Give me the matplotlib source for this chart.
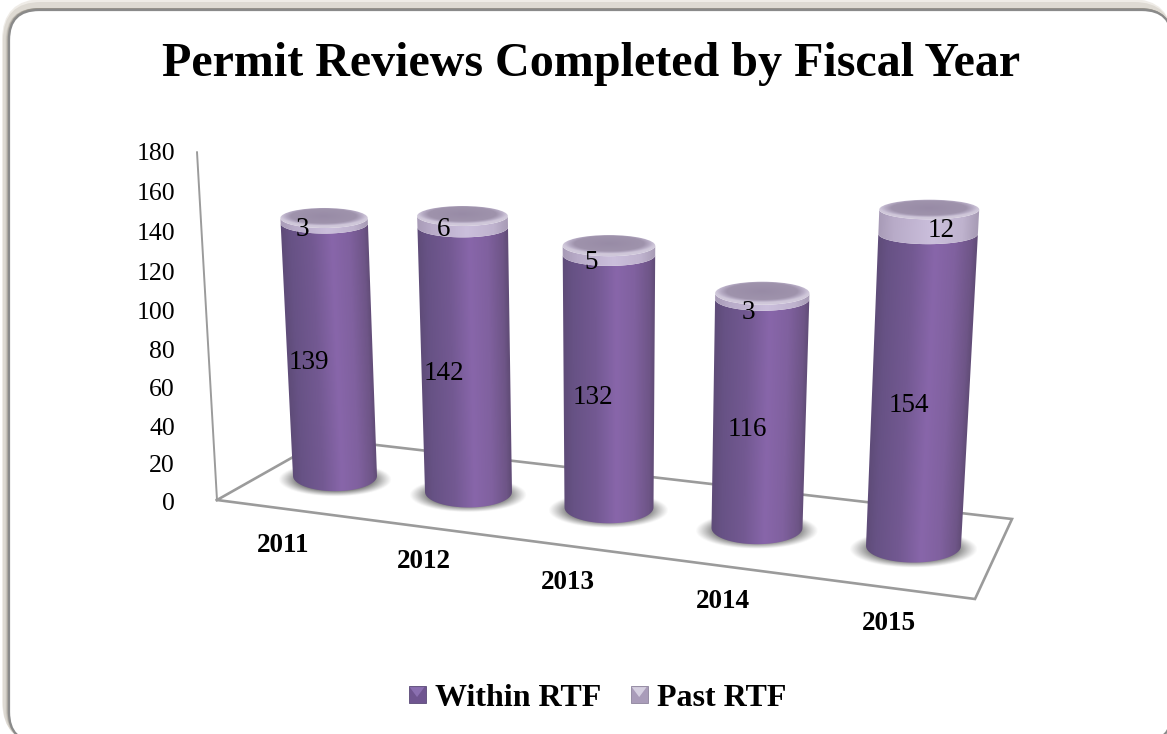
import numpy as np
import matplotlib
matplotlib.use("Agg")
import matplotlib.pyplot as plt
from matplotlib.colors import LinearSegmentedColormap
from matplotlib.patches import FancyBboxPatch, Polygon, Ellipse, Patch
from matplotlib.legend_handler import HandlerBase

# ---- data ----
years = ["2011", "2012", "2013", "2014", "2015"]
within_rtf = [139, 142, 132, 116, 154]
past_rtf = [3, 6, 5, 3, 12]
value_ticks = [0, 20, 40, 60, 80, 100, 120, 140, 160, 180]
series_names = ["Within RTF", "Past RTF"]
title = "Permit Reviews Completed by Fiscal Year"

# ---- layout of the 3-D scene (pixels) ----
base_x = [335, 468.5, 609, 757, 913.5]
base_y = [476, 492, 507.5, 528, 546]
base_hw = [42, 43.5, 44.5, 45.5, 47.5]
within_off = [(-21, 13), (-22, 14), (-16, 16), (-12, 16), (-12, 16)]
past_off = [(-22, 9), (-19, 8), (-18, 12), (-14, 16), (12, 9)]
year_off = [(-52, 69), (-45, 70), (-41, 75), (-34, 74), (-25, 77)]
VX, PERSP = 610.0, 6480.0

plt.rcParams["font.family"] = ["Liberation Serif", "DejaVu Serif"]

fig = plt.figure(figsize=(11.67, 7.34), dpi=100, facecolor="white")
ax = fig.add_axes([0, 0, 1, 1])
ax.axis("off")


def unit(by):
    return 1.817 + 0.003 * (by - 476)


def project(i, v):
    """Scene position of value v on the centre axis of column i."""
    t = v * unit(base_y[i])
    x = base_x[i] + (base_x[i] - VX) * t / PERSP
    y = base_y[i] - t
    hw = base_hw[i] * (1 + t / PERSP)
    b = 10 + 0.02 * (y - 218)
    return x, y, hw, b


def axis_y(v):
    return 504 - 1.87 * v - 0.000414 * v * v


# ---- panel with soft shadow ----
PX0, PY0, PX1, PY1 = 9, 10, 1172, 742
R = 30


def panel(dl, dt, **kw):
    return FancyBboxPatch((PX0 - dl, PY0 - dt), PX1 - PX0 + dl, PY1 - PY0 + dt,
                          boxstyle=f"round,pad=0,rounding_size={R + max(dl, dt)}",
                          **kw)


ax.add_patch(panel(7, 11, fc="#efece7", ec="none", zorder=1))
ax.add_patch(panel(6, 8, fc="#dedad3", ec="none", zorder=1.01))
for k, col in enumerate(["#d8d4cd", "#c6c2ba", "#aeaaa2", "#98948c"]):
    ax.add_patch(panel(4 - k, 2, fc=col, ec="none", zorder=1.1 + k * 0.01))
ax.add_patch(panel(0, 0, fc="white", ec="#8a8a8a", lw=1.6, zorder=1.5))

# ---- floor and value axis ----
GRID = "#9b9b9b"
ax.plot([197, 217], [152, 500], color=GRID, lw=1.4, zorder=2, solid_capstyle="round")
floor_x = [217, 975, 1012, 325, 217]
floor_y = [500, 599, 519, 439, 500]
ax.plot(floor_x, floor_y, color=GRID, lw=1.9, zorder=2, solid_joinstyle="miter")

# ---- colour ramps ----
cm_body = LinearSegmentedColormap.from_list("body", [
    (0.00, "#5f4c79"), (0.10, "#675285"), (0.35, "#735992"), (0.58, "#8866aa"),
    (0.78, "#80619f"), (0.95, "#6e5587"), (1.00, "#624d78")])
cm_past = LinearSegmentedColormap.from_list("past", [
    (0.00, "#a89bb7"), (0.15, "#b8abc8"), (0.55, "#cbbfdc"),
    (0.85, "#bfb3ce"), (1.00, "#a89cb6")])
cm_cap = LinearSegmentedColormap.from_list("cap", [
    (0.00, "#988ba6"), (0.76, "#9f93ac"), (0.88, "#b5aac3"),
    (0.96, "#c8bfd4"), (1.00, "#d0c8da")])


def draw_shadow(i, z):
    x, y, hw, b = project(i, 0)
    y = y + 3
    a, bb = hw * 1.36, b * 1.15
    xs = np.arange(x - a - 2, x + a + 2, 1.0)
    ys = np.arange(y - bb - 2, y + bb + 4, 1.0)
    xx, yy = np.meshgrid(xs, ys)
    r = np.sqrt(((xx - x) / a) ** 2 + ((yy - y) / bb) ** 2)
    alpha = np.clip((1 - r) / 0.40, 0, 1) ** 1.1 * 0.9
    img = np.zeros(xx.shape + (4,))
    img[..., :3] = 0.30
    img[..., 3] = alpha
    ax.imshow(img, extent=(xs[0], xs[-1], ys[-1], ys[0]), aspect="auto",
              origin="upper", zorder=z, interpolation="bilinear")


def arc(x, y, hw, b, start, stop, n=40):
    th = np.linspace(start, stop, n)
    return np.column_stack([x + hw * np.cos(th), y + b * np.sin(th)])


def draw_segment(i, v0, v1, cmap, z):
    x0, y0, h0, b0 = project(i, v0)
    x1, y1, h1, b1 = project(i, v1)
    pts = np.vstack([arc(x0, y0, h0, b0, np.pi, 0),
                     arc(x1, y1, h1, b1, 0, np.pi)])
    ys = np.arange(np.floor(y1 - 2), np.ceil(y0 + b0 + 2), 1.0)
    xs = np.arange(min(x0 - h0, x1 - h1) - 2, max(x0 + h0, x1 + h1) + 2, 1.0)
    xx, yy = np.meshgrid(xs, ys)
    f = np.clip((y0 - yy) / max(y0 - y1, 1e-6), 0, 1)
    u = (xx - (x0 + (x1 - x0) * f)) / (h0 + (h1 - h0) * f)
    im = ax.imshow(u, cmap=cmap, vmin=-1, vmax=1, aspect="auto", origin="upper",
                   extent=(xs[0], xs[-1], ys[-1], ys[0]), zorder=z,
                   interpolation="bilinear")
    poly = Polygon(pts, closed=True, transform=ax.transData, fc="none", ec="none")
    ax.add_patch(poly)
    im.set_clip_path(poly)


def draw_cap(i, v, z):
    x, y, hw, b = project(i, v)
    xs = np.arange(x - hw - 2, x + hw + 2, 1.0)
    ys = np.arange(y - b - 2, y + b + 2, 1.0)
    xx, yy = np.meshgrid(xs, ys)
    r = np.sqrt(((xx - x) / hw) ** 2 + ((yy - y + 0.2 * b) / b) ** 2)
    im = ax.imshow(np.clip(r, 0, 1), cmap=cm_cap, vmin=0, vmax=1, aspect="auto",
                   origin="upper", extent=(xs[0], xs[-1], ys[-1], ys[0]),
                   zorder=z, interpolation="bilinear")
    e = Ellipse((x, y), 2 * hw, 2 * b, fc="none", ec="none", transform=ax.transData)
    ax.add_patch(e)
    im.set_clip_path(e)


for i in range(len(years)):
    z = 3 + i
    draw_shadow(i, z)
    draw_segment(i, 0, within_rtf[i], cm_body, z + 0.1)
    draw_segment(i, within_rtf[i], within_rtf[i] + past_rtf[i], cm_past, z + 0.2)
    draw_cap(i, within_rtf[i] + past_rtf[i], z + 0.3)

# ---- text ----
ax.text(591, 64, title, ha="center", va="center", fontsize=34.6,
        fontweight="bold", color="black", zorder=20)
for v in value_ticks:
    ax.text(175, axis_y(v), str(v), ha="right", va="center", fontsize=18.5,
            color="black", zorder=20)
for i, yr in enumerate(years):
    bx, by = base_x[i], base_y[i]
    ax.text(bx + year_off[i][0], by + year_off[i][1], yr, ha="center", va="center",
            fontsize=19.5, fontweight="bold", color="black", zorder=20)
    x, y, _, _ = project(i, within_rtf[i] / 2)
    ax.text(x + within_off[i][0], y + within_off[i][1], str(within_rtf[i]),
            ha="center", va="center", fontsize=19.5, color="black", zorder=20)
    x, y, _, _ = project(i, within_rtf[i] + past_rtf[i] / 2)
    ax.text(x + past_off[i][0], y + past_off[i][1], str(past_rtf[i]),
            ha="center", va="center", fontsize=19.5, color="black", zorder=20)


# ---- legend with bevelled squares ----
class BevelHandler(HandlerBase):
    def __init__(self, light, dark, mid):
        super().__init__()
        self.light, self.dark, self.mid = light, dark, mid

    def create_artists(self, legend, orig, xd, yd, w, h, fs, trans):
        s = 17.0 * 0.72
        x0 = -xd + (w - s) / 2
        y0 = -yd + (h - s) / 2
        sq = Polygon([(x0, y0), (x0 + s, y0), (x0 + s, y0 + s), (x0, y0 + s)],
                     fc=self.mid, ec=self.dark, lw=0.6, transform=trans)
        tri = Polygon([(x0 + 0.8, y0 + s - 0.8), (x0 + s - 0.8, y0 + s - 0.8),
                       (x0 + s / 2, y0 + s * 0.35)], fc=self.light, ec="none",
                      transform=trans)
        return [sq, tri]


h1 = Patch(fc="#6f5590", label=series_names[0])
h2 = Patch(fc="#a99cb9", label=series_names[1])
ax.legend(handles=[h1, h2], loc="center", bbox_to_anchor=(596, 698),
          bbox_transform=ax.transData, ncol=2, frameon=False,
          prop={"family": "Liberation Serif", "weight": "bold", "size": 23},
          handler_map={h1: BevelHandler("#8a6fb0", "#5a4a78", "#6f5590"),
                       h2: BevelHandler("#d5cfe0", "#8d839c", "#a99cb9")},
          handlelength=0.7, handletextpad=0.2, columnspacing=0.85,
          borderpad=0, borderaxespad=0).set_zorder(20)

ax.set_xlim(0, 1167)
ax.set_ylim(734, 0)
fig.savefig("out.png", dpi=100, facecolor="white")
